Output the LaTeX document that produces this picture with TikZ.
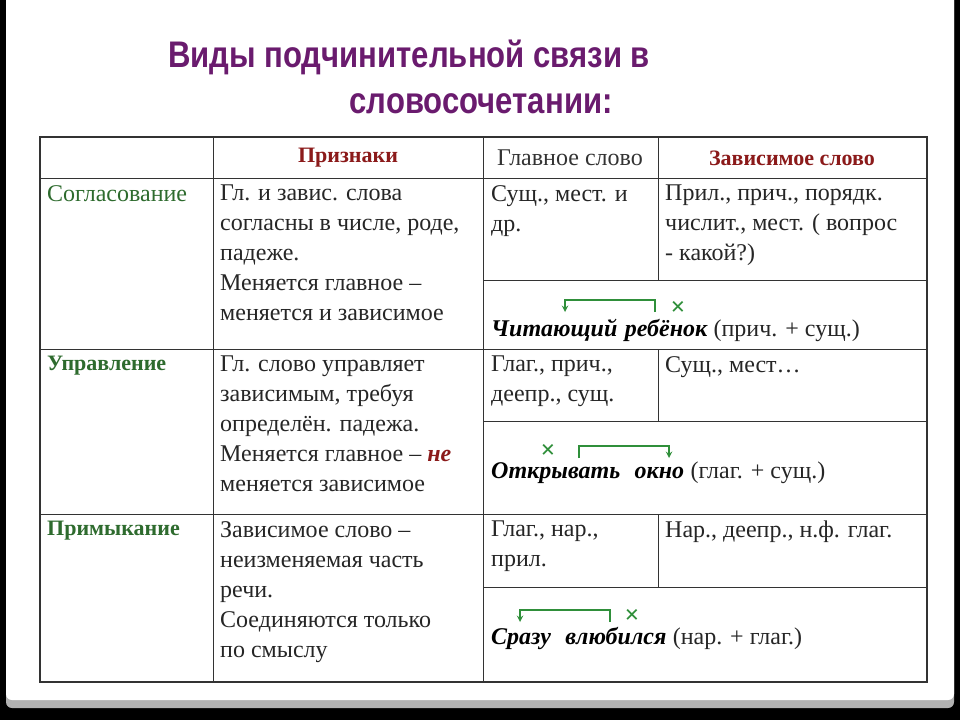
\documentclass[tikz,border=0pt]{standalone}
\usepackage{fontspec}
\setmainfont{Liberation Serif}
\newfontfamily\titlefont{Liberation Sans}
\usetikzlibrary{positioning}
\definecolor{titlepurple}{HTML}{6A1B6E}
\definecolor{headred}{HTML}{8B1A1A}
\definecolor{rowgreen}{HTML}{2E6B2E}
\definecolor{arrowgreen}{HTML}{2F8F3A}
\definecolor{gridgray}{HTML}{333333}

\tikzstyle{cell} = [anchor=north west, align=left, inner sep=0pt, font=\fontsize{24}{30}\selectfont, text=black!85]
\tikzstyle{head} = [anchor=center, inner sep=0pt, font=\fontsize{24}{26}\selectfont]
\tikzstyle{word} = [anchor=base west, inner sep=0pt, font=\fontsize{24}{26}\selectfont\bfseries\itshape]
\tikzstyle{link} = [arrowgreen, line width=1.8pt, -stealth]
\tikzstyle{cross} = [anchor=center, inner sep=0pt, text=arrowgreen, font=\fontsize{26}{26}\selectfont\bfseries]
\tikzstyle{titletext} = [font=\titlefont\fontsize{37}{40}\selectfont\bfseries, text=titlepurple, inner sep=0pt]

\begin{document}
\begin{tikzpicture}[x=1pt, y=-1pt]

\useasboundingbox (0,0) rectangle (960,720);
\fill[black] (0,0) rectangle (960,720);
\fill[gray!60, rounded corners=6pt] (6,-10) rectangle (954,708);
\fill[white, rounded corners=6pt] (6,-10) rectangle (954,700);

% title
\node (title1) [titletext] at (409,57) {\scalebox{0.84}[1]{Виды подчинительной связи в}};
\node (title2) [titletext] at (481,104) {\scalebox{0.84}[1]{словосочетании:}};

% grid
\draw[gridgray, line width=1.2pt] (40,137) rectangle (927,682);
\draw[gridgray, line width=1pt] (40,178) -- (927,178);
\draw[gridgray, line width=1pt] (40,349) -- (927,349);
\draw[gridgray, line width=1pt] (40,514) -- (927,514);
\draw[gridgray, line width=1pt] (213,137) -- (213,682);
\draw[gridgray, line width=1pt] (483,137) -- (483,682);
\draw[gridgray, line width=1pt] (658,137) -- (658,280);
\draw[gridgray, line width=1pt] (658,349) -- (658,421);
\draw[gridgray, line width=1pt] (658,514) -- (658,587);
\draw[gridgray, line width=1pt] (483,280) -- (927,280);
\draw[gridgray, line width=1pt] (483,421) -- (927,421);
\draw[gridgray, line width=1pt] (483,587) -- (927,587);

% header
\node (hsign) [head, text=headred, font=\fontsize{22}{26}\selectfont\bfseries] at (348,158) {Признаки};
\node (hmain) [head, text=black!80] at (570,158) {Главное слово};
\node (hdep) [head, text=headred, font=\fontsize{22}{26}\selectfont\bfseries] at (792,158) {Зависимое слово};

% row 1
\node (r1) [cell, text=rowgreen] at (47,185) {Согласование};
\node (r1sign) [cell] at (220,185) {Гл. и завис. слова\\согласны в числе, роде,\\падеже.\\Меняется главное --\\меняется и зависимое};
\node (r1main) [cell] at (491,185) {Сущ., мест. и\\др.};
\node (r1dep) [cell] at (665,185) {Прил., прич., порядк.\\числит., мест. ( вопрос\\- какой?)};
\node (w1a) [word] at (491,336) {Читающий};
\node (w1b) [word, right=7pt of w1a.base east, anchor=base west] {ребёнок};
\node (w1c) [cell, right=6pt of w1b.base east, anchor=base west] {(прич. + сущ.)};
\node (x1) [cross] at (678,308) {×};
\draw[link] ([xshift=164pt,yshift=24pt]w1a.base west) -- ++(0,12pt) -| ([xshift=74pt,yshift=24pt]w1a.base west);

% row 2
\node (r2) [cell, text=rowgreen, font=\fontsize{22}{30}\selectfont\bfseries] at (47,356) {Управление};
\node (r2sign) [cell] at (220,356) {Гл. слово управляет\\зависимым, требуя\\определён. падежа.\\Меняется главное -- \textcolor{headred}{\bfseries\itshape не}\\меняется зависимое};
\node (r2main) [cell] at (491,356) {Глаг., прич.,\\деепр., сущ.};
\node (r2dep) [cell] at (665,356) {Сущ., мест…};
\node (w2a) [word] at (491,478) {Открывать};
\node (w2b) [word, right=14pt of w2a.base east, anchor=base west] {окно};
\node (w2c) [cell, right=6pt of w2b.base east, anchor=base west] {(глаг. + сущ.)};
\node (x2) [cross] at (548,451) {×};
\draw[link] ([xshift=88pt,yshift=20pt]w2a.base west) -- ++(0,12pt) -| ([xshift=178pt,yshift=20pt]w2a.base west);

% row 3
\node (r3) [cell, text=rowgreen, font=\fontsize{22}{30}\selectfont\bfseries] at (47,521) {Примыкание};
\node (r3sign) [cell] at (220,521) {Зависимое слово --\\неизменяемая часть\\речи.\\Соединяются только\\по смыслу};
\node (r3main) [cell] at (491,521) {Глаг., нар.,\\прил.};
\node (r3dep) [cell] at (665,521) {Нар., деепр., н.ф. глаг.};
\node (w3a) [word] at (491,644) {Сразу};
\node (w3b) [word, right=14pt of w3a.base east, anchor=base west] {влюбился};
\node (w3c) [cell, right=6pt of w3b.base east, anchor=base west] {(нар. + глаг.)};
\node (x3) [cross] at (632,616) {×};
\draw[link] ([xshift=119pt,yshift=22pt]w3a.base west) -- ++(0,12pt) -| ([xshift=29pt,yshift=22pt]w3a.base west);

\end{tikzpicture}
\end{document}
